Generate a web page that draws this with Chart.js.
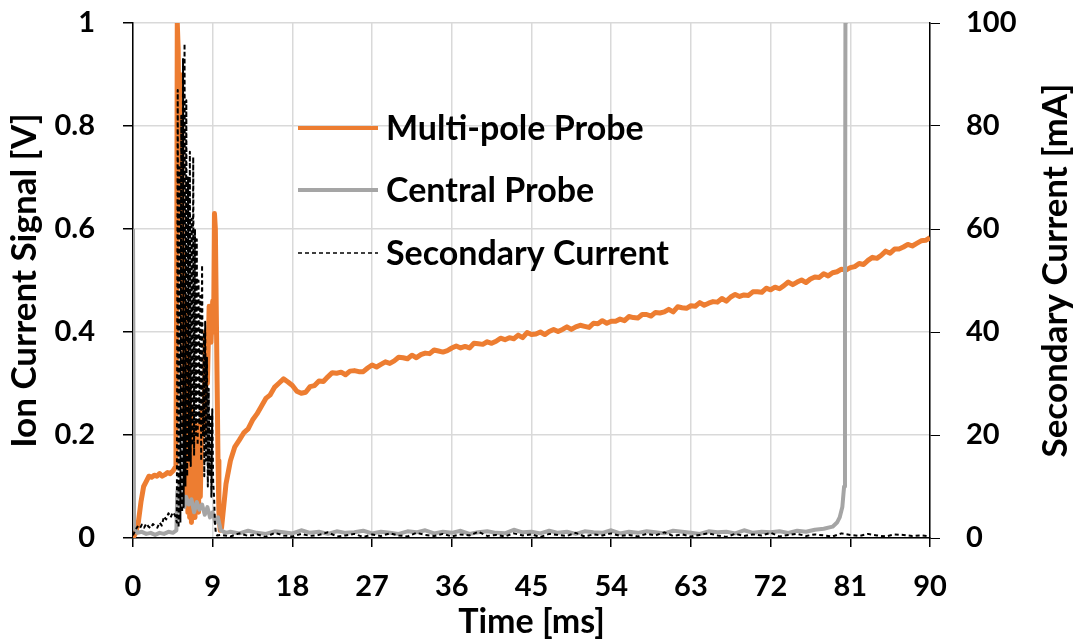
<!DOCTYPE html>
<html>
<head>
<meta charset="utf-8">
<script src="https://cdn.jsdelivr.net/npm/chart.js@4.4.0/dist/chart.umd.min.js"></script>
<style>
  html, body { margin: 0; padding: 0; background: #fff; }
  #wrap { width: 1080px; height: 644px; position: relative; }
</style>
</head>
<body>
<div id="wrap"><canvas id="chart"></canvas></div>
<script>
// ---- Series names and tick values ----
const seriesNames = ['Multi-pole Probe', 'Central Probe', 'Secondary Current'];
const timeTicks = [0, 9, 18, 27, 36, 45, 54, 63, 72, 81, 90];
const signalTicks = [0, 0.2, 0.4, 0.6, 0.8, 1];
const currentTicks = [0, 20, 40, 60, 80, 100];

// ---- Multi-pole probe ion current signal [V] ----
const multiPoleTime = [
  0, 0.3, 0.6, 0.9, 1.2, 1.5, 1.8, 2.1, 2.4, 2.7, 3.0, 3.3, 3.6, 3.9, 4.2, 4.5, 4.7, 4.85, 4.95,
  5.0, 5.1, 5.2, 5.3, 5.4, 5.5, 5.6, 5.7, 5.8, 5.9, 6.0, 6.1, 6.2, 6.3, 6.4, 6.5, 6.6, 6.7, 6.8, 6.9,
  7.0, 7.1, 7.2, 7.3, 7.4, 7.5, 7.6, 7.8, 8.0, 8.2, 8.4, 8.6, 8.8, 9.0, 9.1, 9.2, 9.3, 9.4, 9.5, 9.6, 9.7, 9.85,
  10, 10.5, 11, 11.5, 12, 12.5, 13, 13.5, 14, 14.5, 15, 15.5, 16, 16.5, 17, 17.5, 18, 18.5, 19, 19.5,
  20, 20.5, 21, 21.5, 22, 22.5, 23, 23.5, 24, 24.5, 25, 25.5, 26, 26.5, 27, 27.5, 28, 28.5, 29, 29.5,
  30, 30.5, 31, 31.5, 32, 32.5, 33, 33.5, 34, 34.5, 35, 35.5, 36, 36.5, 37, 37.5, 38, 38.5, 39, 39.5,
  40, 40.5, 41, 41.5, 42, 42.5, 43, 43.5, 44, 44.5, 45, 45.5, 46, 46.5, 47, 47.5, 48, 48.5, 49, 49.5,
  50, 50.5, 51, 51.5, 52, 52.5, 53, 53.5, 54, 54.5, 55, 55.5, 56, 56.5, 57, 57.5, 58, 58.5, 59, 59.5,
  60, 60.5, 61, 61.5, 62, 62.5, 63, 63.5, 64, 64.5, 65, 65.5, 66, 66.5, 67, 67.5, 68, 68.5, 69, 69.5,
  70, 70.5, 71, 71.5, 72, 72.5, 73, 73.5, 74, 74.5, 75, 75.5, 76, 76.5, 77, 77.5, 78, 78.5, 79, 79.5,
  80, 80.5, 81, 81.5, 82, 82.5, 83, 83.5, 84, 84.5, 85, 85.5, 86, 86.5, 87, 87.5, 88, 88.5, 89, 89.5, 90
];
const multiPoleSignal = [
  0.0, 0.01, 0.03, 0.07, 0.10, 0.11, 0.12, 0.118, 0.122, 0.12, 0.125, 0.12, 0.123, 0.127, 0.125, 0.13, 0.135, 0.14, 0.6,
  1.0, 0.95, 0.75, 0.9, 0.6, 0.8, 0.4, 0.55, 0.2, 0.45, 0.08, 0.35, 0.05, 0.3, 0.04, 0.25, 0.03, 0.2, 0.05, 0.22,
  0.04, 0.18, 0.06, 0.2, 0.05, 0.22, 0.08, 0.25, 0.2, 0.4, 0.3, 0.45, 0.38, 0.46, 0.4, 0.63, 0.6, 0.45, 0.3, 0.15, 0.05, 0.015,
  0.02, 0.105, 0.15, 0.177, 0.19, 0.204, 0.212, 0.229, 0.241, 0.256, 0.271, 0.278, 0.293, 0.301, 0.309, 0.303, 0.296, 0.285, 0.281, 0.283,
  0.294, 0.296, 0.305, 0.304, 0.313, 0.321, 0.320, 0.322, 0.317, 0.324,
  0.325, 0.323, 0.323, 0.330, 0.336, 0.332, 0.337, 0.342, 0.339, 0.344,
  0.351, 0.350, 0.348, 0.355, 0.350, 0.356, 0.359, 0.358, 0.365, 0.363,
  0.361, 0.364, 0.369, 0.373, 0.369, 0.372, 0.369, 0.378, 0.377, 0.376,
  0.381, 0.378, 0.382, 0.388, 0.385, 0.389, 0.387, 0.394, 0.389, 0.399,
  0.395, 0.396, 0.400, 0.395, 0.401, 0.405, 0.401, 0.405, 0.410, 0.405,
  0.410, 0.413, 0.411, 0.409, 0.417, 0.416, 0.422, 0.417, 0.421, 0.421,
  0.425, 0.422, 0.430, 0.428, 0.427, 0.434, 0.434, 0.431, 0.438, 0.437,
  0.439, 0.444, 0.439, 0.449, 0.447, 0.446, 0.451, 0.450, 0.457, 0.452,
  0.456, 0.459, 0.458, 0.465, 0.460, 0.468, 0.473, 0.469, 0.472, 0.471,
  0.478, 0.478, 0.477, 0.485, 0.482, 0.487, 0.484, 0.490, 0.497, 0.492,
  0.497, 0.501, 0.496, 0.503, 0.507, 0.506, 0.513, 0.509, 0.515, 0.517,
  0.522, 0.520, 0.525, 0.527, 0.533, 0.531, 0.539, 0.545, 0.543, 0.549,
  0.557, 0.553, 0.561, 0.561, 0.565, 0.570, 0.567, 0.572, 0.577, 0.578,
  0.583
];

// ---- Central probe ion current signal [V] ----
const centralTime = [
  0, 0.05, 0.12, 0.5, 1, 1.5, 2, 2.5, 3, 3.5, 4, 4.5, 4.9,
  5.0, 5.2, 5.4, 5.6, 5.8, 6.0, 6.3, 6.6, 6.9, 7.2, 7.5, 7.8, 8.1, 8.4, 8.7, 9.0, 9.3, 9.6, 9.9, 10.5,
  11, 12, 13, 14, 15, 16, 17, 18, 19, 20, 21, 22, 23, 24, 25, 26, 27, 28, 29, 30,
  31, 32, 33, 34, 35, 36, 37, 38, 39, 40, 41, 42, 43, 44, 45, 46, 47, 48, 49, 50,
  51, 52, 53, 54, 55, 56, 57, 58, 59, 60, 61, 62, 63, 64, 65, 66, 67, 68, 69, 70,
  71, 72, 73, 74, 75, 76, 77, 78, 79,
  79.5, 79.8, 80.1, 80.3, 80.4, 80.45, 80.5
];
const centralSignal = [
  0.6, 0.6, 0.02, 0.01, 0.012, 0.008, 0.01, 0.006, 0.01, 0.008, 0.012, 0.01, 0.015,
  0.09, 0.1, 0.07, 0.085, 0.06, 0.08, 0.065, 0.075, 0.05, 0.07, 0.055, 0.065, 0.045, 0.06, 0.04, 0.05, 0.03, 0.04, 0.015, 0.01,
  0.012, 0.009, 0.014, 0.01, 0.008, 0.013, 0.011, 0.009, 0.015, 0.01,
  0.012, 0.008, 0.013, 0.01, 0.011, 0.014, 0.009, 0.012, 0.01, 0.008,
  0.013, 0.011, 0.015, 0.009, 0.012, 0.01, 0.014, 0.008, 0.011, 0.013,
  0.01, 0.009, 0.016, 0.011, 0.012, 0.009, 0.014, 0.01, 0.012, 0.008,
  0.013, 0.011, 0.01, 0.015, 0.009, 0.012, 0.01, 0.013, 0.011, 0.009,
  0.014, 0.012, 0.01, 0.008, 0.013, 0.011, 0.012, 0.009, 0.015, 0.01,
  0.012, 0.011, 0.013, 0.01, 0.014, 0.012, 0.016, 0.018, 0.022,
  0.03, 0.04, 0.06, 0.1, 0.4, 1.0, 1.5
];

// ---- Secondary current [mA] ----
const secondaryTime = [
  0, 0.25, 0.5, 0.75, 1, 1.25, 1.5, 1.75, 2, 2.25, 2.5, 2.75, 3, 3.25, 3.5, 3.75, 4, 4.25, 4.5, 4.75,
  4.95, 5.05, 5.15, 5.25, 5.35, 5.45, 5.55, 5.65, 5.72, 5.82, 5.92, 6.02, 6.12, 6.22, 6.32, 6.42, 6.52, 6.62, 6.72, 6.8,
  6.9, 7.0, 7.1, 7.2, 7.3, 7.4, 7.5, 7.6, 7.7, 7.8, 7.9, 8.0, 8.05, 8.15, 8.25, 8.35, 8.45, 8.55, 8.65, 8.75,
  8.85, 8.95, 9.05, 9.15, 9.25, 9.35, 9.5,
  10, 11, 12, 13, 14, 15, 16, 17, 18, 19, 20, 21, 22, 23, 24, 25, 26, 27, 28, 29,
  30, 31, 32, 33, 34, 35, 36, 37, 38, 39, 40, 41, 42, 43, 44, 45, 46, 47, 48, 49,
  50, 51, 52, 53, 54, 55, 56, 57, 58, 59, 60, 61, 62, 63, 64, 65, 66, 67, 68, 69,
  70, 71, 72, 73, 74, 75, 76, 77, 78, 79, 80, 81, 82, 83, 84, 85, 86, 87, 88, 89, 90
];
const secondaryCurrent = [
  0.5, 1.5, 2.2, 1.8, 2.6, 2.0, 2.8, 2.2, 1.9, 2.7, 2.3, 2.0, 3.0, 2.4, 4.2, 3.6, 4.8, 4.0, 5.0, 4.4,
  3, 87, 2, 72, 3, 82, 5, 93, 6, 96, 10, 85, 12, 70, 15, 75, 14, 62, 18, 74,
  16, 60, 20, 58, 18, 50, 22, 47, 15, 53, 20, 40, 12, 42, 15, 35, 10, 29, 12, 24,
  8, 25, 11, 8, 3, 1, 0.5,
  0.6, 0.3, 0.9, 0.4, 0.7, 0.2, 1.0, 0.5, 0.3, 0.8, 0.4, 0.6, 1.1, 0.3, 0.5, 0.8, 0.2, 0.7, 0.4, 0.9,
  0.5, 0.3, 1.0, 0.6, 0.4, 0.8, 0.3, 0.7, 0.5, 1.2, 0.4, 0.6, 0.3, 0.9, 0.5, 0.7, 0.2, 0.8, 0.6, 0.4,
  1.0, 0.3, 0.7, 0.5, 0.9, 0.4, 0.6, 0.3, 0.8, 0.5, 1.1, 0.4, 0.7, 0.3, 0.6, 0.9, 0.5, 0.2, 0.8, 0.4,
  0.7, 0.5, 1.0, 0.3, 0.6, 0.8, 0.4, 0.7, 0.5, 0.3, 0.9, 0.6, 0.4, 0.8, 0.5, 0.3, 0.7, 0.6, 0.4, 0.5, 0.3
];

const toPoints = (xs, ys) => xs.map((x, i) => ({ x: x, y: ys[i] }));

const FONT = 'Lato, "Open Sans", sans-serif';
const tickFont = { family: FONT, weight: 'bold', size: 29 };
const titleFont = { family: FONT, weight: 'bold', size: 34 };
const GRID = '#d9d9d9';
const rightTitle = 'Secondary Current [mA]';

// Legend drawn inside the plot area, one row per dataset
const insideLegend = {
  id: 'insideLegend',
  afterDatasetsDraw(chart) {
    const ctx = chart.ctx;
    const x0 = 298, x1 = 378, textX = 386;
    const rows = [128, 190, 253];
    ctx.save();
    ctx.font = 'bold 34px ' + FONT;
    ctx.textBaseline = 'middle';
    ctx.fillStyle = '#000';
    chart.data.datasets.forEach((ds, i) => {
      const y = rows[i];
      ctx.beginPath();
      ctx.strokeStyle = ds.borderColor;
      ctx.lineWidth = ds.legendLineWidth;
      ctx.setLineDash(ds.borderDash || []);
      ctx.moveTo(x0, y);
      ctx.lineTo(x1, y);
      ctx.stroke();
      ctx.setLineDash([]);
      ctx.fillText(ds.label, textX, y + 1);
    });
    ctx.restore();
  }
};

// Right-hand axis title, reading bottom to top like the left one
const rightAxisTitle = {
  id: 'rightAxisTitle',
  afterDraw(chart) {
    const ctx = chart.ctx;
    const area = chart.chartArea;
    ctx.save();
    ctx.translate(1056, (area.top + area.bottom) / 2 - 10);
    ctx.rotate(-Math.PI / 2);
    ctx.font = 'bold 35px ' + FONT;
    ctx.fillStyle = '#000';
    ctx.textAlign = 'center';
    ctx.textBaseline = 'middle';
    ctx.fillText(rightTitle, 0, 0);
    ctx.restore();
  }
};

// Vertical axes: no extra room above the top tick label
const noVerticalOverflow = s => { s.paddingTop = 0; s.paddingBottom = 0; };

new Chart(document.getElementById('chart'), {
  type: 'line',
  data: {
    datasets: [
      {
        label: seriesNames[0],
        data: toPoints(multiPoleTime, multiPoleSignal),
        borderColor: '#ED7D31',
        borderWidth: 5,
        legendLineWidth: 4,
        yAxisID: 'y',
        order: 3
      },
      {
        label: seriesNames[1],
        data: toPoints(centralTime, centralSignal),
        borderColor: '#A5A5A5',
        borderWidth: 4,
        legendLineWidth: 4,
        yAxisID: 'y',
        order: 2
      },
      {
        label: seriesNames[2],
        data: toPoints(secondaryTime, secondaryCurrent),
        borderColor: '#000000',
        borderWidth: 2,
        borderDash: [4, 3],
        legendLineWidth: 1.5,
        yAxisID: 'y2',
        order: 1
      }
    ]
  },
  options: {
    responsive: true,
    maintainAspectRatio: false,
    animation: false,
    devicePixelRatio: 1,
    layout: { padding: { top: 23, left: 0, right: 0, bottom: 0 } },
    elements: {
      point: { radius: 0 },
      line: { tension: 0, borderJoinStyle: 'round' }
    },
    plugins: {
      legend: { display: false },
      tooltip: { enabled: false }
    },
    scales: {
      x: {
        type: 'linear',
        min: 0,
        max: 90,
        afterBuildTicks: s => { s.ticks = timeTicks.map(v => ({ value: v })); },
        afterFit: s => { s.height = 106; },
        grid: { color: GRID, lineWidth: 1.5, tickColor: '#000', tickLength: 9 },
        border: { color: '#000', width: 1.5 },
        ticks: { color: '#000', font: tickFont, padding: 22, maxRotation: 0, autoSkip: false },
        title: { display: true, text: 'Time [ms]', color: '#000', font: titleFont, padding: { top: 0, bottom: 2 } }
      },
      y: {
        position: 'left',
        min: 0,
        max: 1,
        afterBuildTicks: s => { s.ticks = signalTicks.map(v => ({ value: v })); },
        afterFit: s => { s.width = 133; noVerticalOverflow(s); },
        grid: { color: GRID, lineWidth: 1.5, tickColor: '#000', tickLength: 10 },
        border: { color: '#000', width: 1.5 },
        ticks: { color: '#000', font: tickFont, padding: 28, callback: v => String(v) },
        title: { display: true, text: 'Ion Current Signal [V]', color: '#000', font: { family: FONT, weight: 'bold', size: 35 }, padding: { top: 4, bottom: 0 } }
      },
      y2: {
        position: 'right',
        min: 0,
        max: 100,
        afterBuildTicks: s => { s.ticks = currentTicks.map(v => ({ value: v })); },
        afterFit: s => { s.width = 150; noVerticalOverflow(s); },
        grid: { drawOnChartArea: false, tickColor: '#000', tickLength: 10 },
        border: { color: '#000', width: 1.5 },
        ticks: { color: '#000', font: tickFont, padding: 26, callback: v => String(v) }
      }
    }
  },
  plugins: [insideLegend, rightAxisTitle]
});
</script>
</body>
</html>
